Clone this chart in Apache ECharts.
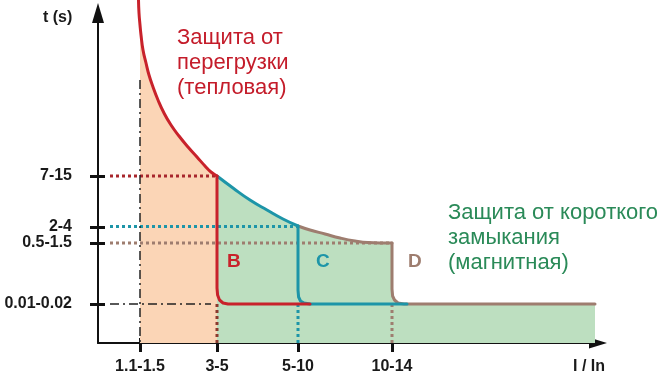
<!DOCTYPE html>
<html>
<head>
<meta charset="utf-8">
<script src="https://cdn.jsdelivr.net/npm/echarts@6/dist/echarts.min.js"></script>
<style>
html,body{margin:0;padding:0;background:#fff;}
#chart{width:670px;height:383px;}
</style>
</head>
<body>
<div id="chart"></div>
<script>
// Schematic axis positions (arbitrary units along each axis)
const xTickValues = [42, 119, 200, 294];
const xTickLabels = ['1.1-1.5', '3-5', '5-10', '10-14'];
const yTickValues = [39, 100, 116, 167];
const yTickLabels = ['0.01-0.02', '0.5-1.5', '2-4', '7-15'];

// Thermal (overload) curve
const curveThermal = [[40.5,343],[41,330],[42,318],[43,308],[45,293],[48,280],[51,268],[55,256],[60,243],[66,230],[73,218],[81,207],[90,196],[99,186],[107,177],[113,171],[119,167]];
// Magnetic trip curves
const curveB = [[119,167],[119,55],[119.6,48],[121.5,43],[125,40],[130,39],[212,39]];
const curveCThermal = [[119,167],[135,155],[152,143],[169,133],[185,124],[200,117]];
const curveC = [[200,117],[200,53],[200.6,46],[202.5,42],[206,40],[212,39],[309,39]];
const curveDThermal = [[200,117],[212,113],[227,109],[242,105],[257,102],[270,100.5],[294,100]];
const curveD = [[294,100],[294,54],[294.6,47],[296.5,43],[300,40],[306,39],[497,39]];

// Reference guide lines
const guideT1 = [[12,167],[119,167]];
const guideT2 = [[12,116.5],[200,116.5]];
const guideT3 = [[12,100],[294,100]];
const guideT4 = [[12,39],[113,39]];
const guideI1 = [[42,263],[42,0]];
const guideI2 = [[119,39],[119,0]];
const guideI3 = [[200,39],[200,0]];
const guideI4 = [[294,39],[294,0]];

const RED = '#c8222b', TEAL = '#1d95a8', BROWN = '#9e7d6f';
const FONT = "'Liberation Sans', Arial, sans-serif";

const chart = echarts.init(document.getElementById('chart'));

const xLabelMap = {}; xTickValues.forEach((v,i)=>xLabelMap[v]=xTickLabels[i]);
const yLabelMap = {}; yTickValues.forEach((v,i)=>yLabelMap[v]=yTickLabels[i]);

const orangeFill = curveThermal.filter(p => p[0] >= xTickValues[0]);
const greenFill = curveCThermal.concat(curveDThermal.slice(1), curveD.slice(1));

function guide(data, color, type, width) {
  return {type:'line', data, symbol:'none', silent:true, z:3,
    lineStyle:{color, width, type, cap:'butt'}, animation:false};
}
function curve(data, color, smooth) {
  return {type:'line', data, symbol:'none', silent:true, z:5, smooth, clip:false,
    lineStyle:{color, width:3, cap:'round', join:'round'}, animation:false};
}

const baseX = {type:'value', min:0, max:500, splitLine:{show:false}};
const baseY = {type:'value', min:0, max:330, splitLine:{show:false}};

chart.setOption({
  animation:false,
  grid:{left:98, right:72, top:13, bottom:40},
  xAxis:[
    Object.assign({}, baseX, {
      position:'bottom',
      axisLine:{show:true, lineStyle:{color:'#111', width:2}, symbol:['none','triangle'], symbolSize:[11,18]},
      axisTick:{show:true, customValues:xTickValues, length:9, lineStyle:{color:'#111', width:3}},
      axisLabel:{show:true, customValues:xTickValues, formatter:v=>xLabelMap[v]||'', margin:16,
        color:'#1a1a1a', fontWeight:'bold', fontSize:16, fontFamily:FONT}
    }),
    Object.assign({}, baseX, {
      position:'bottom',
      axisLine:{show:false},
      axisTick:{show:true, inside:true, customValues:xTickValues, length:5, lineStyle:{color:'#111', width:3}},
      axisLabel:{show:false}
    })
  ],
  yAxis:[
    Object.assign({}, baseY, {
      position:'left',
      axisLine:{show:true, lineStyle:{color:'#111', width:2}, symbol:['none','triangle'], symbolSize:[12,20]},
      axisTick:{show:true, customValues:yTickValues, length:8, lineStyle:{color:'#111', width:3}},
      axisLabel:{show:true, customValues:yTickValues, formatter:v=>yLabelMap[v]||'', margin:26,
        color:'#1a1a1a', fontWeight:'bold', fontSize:16, fontFamily:FONT}
    }),
    Object.assign({}, baseY, {
      position:'left',
      axisLine:{show:false},
      axisTick:{show:true, inside:true, customValues:yTickValues, length:7, lineStyle:{color:'#111', width:3}},
      axisLabel:{show:false}
    })
  ],
  series:[
    {type:'line', data:greenFill, symbol:'none', silent:true, z:1, clip:false,
      lineStyle:{width:0, opacity:0}, areaStyle:{color:'#bddfc0', opacity:1}},
    {type:'line', data:orangeFill, symbol:'none', silent:true, z:1, smooth:true, clip:false,
      lineStyle:{width:0, opacity:0}, areaStyle:{color:'#fbd5b6', opacity:1}},
    guide(guideT1, '#a8262c', [3,3], 3),
    guide(guideT2, TEAL, [3,3], 3),
    guide(guideT3, BROWN, [3,3], 3),
    guide(guideT4, '#222', [9,4,2,4], 1.5),
    guide(guideI1, '#222', [9,4,2,4], 1.5),
    guide(guideI2, '#8a3a2e', [3,3], 3),
    guide(guideI3, TEAL, [3,3], 3),
    guide(guideI4, BROWN, [3,3], 3),
    curve(curveDThermal, BROWN, true),
    curve(curveD, BROWN, false),
    curve(curveCThermal, TEAL, true),
    curve(curveC, TEAL, false),
    curve(curveThermal, RED, true),
    curve(curveB, RED, false)
  ],
  graphic:[
    {type:'text', z:100, left:43, top:10, style:{text:'t (s)', fontSize:16, fontWeight:'bold', fontFamily:FONT, fill:'#1a1a1a'}},
    {type:'text', z:100, left:573, top:359, style:{text:'I / In', fontSize:16, fontWeight:'bold', fontFamily:FONT, fill:'#1a1a1a'}},
    {type:'text', z:100, left:177, top:25, style:{text:'Защита от\nперегрузки\n(тепловая)', fontSize:22, lineHeight:25, fontFamily:FONT, fill:'#c41c2a'}},
    {type:'text', z:100, left:448, top:200, style:{text:'Защита от короткого\nзамыкания\n(магнитная)', fontSize:22, lineHeight:25, fontFamily:FONT, fill:'#2a8a58'}},
    {type:'text', z:100, left:227, top:252, style:{text:'B', fontSize:19, fontWeight:'bold', fontFamily:FONT, fill:RED}},
    {type:'text', z:100, left:316, top:252, style:{text:'C', fontSize:19, fontWeight:'bold', fontFamily:FONT, fill:TEAL}},
    {type:'text', z:100, left:408, top:252, style:{text:'D', fontSize:19, fontWeight:'bold', fontFamily:FONT, fill:BROWN}}
  ]
});
</script>
</body>
</html>
